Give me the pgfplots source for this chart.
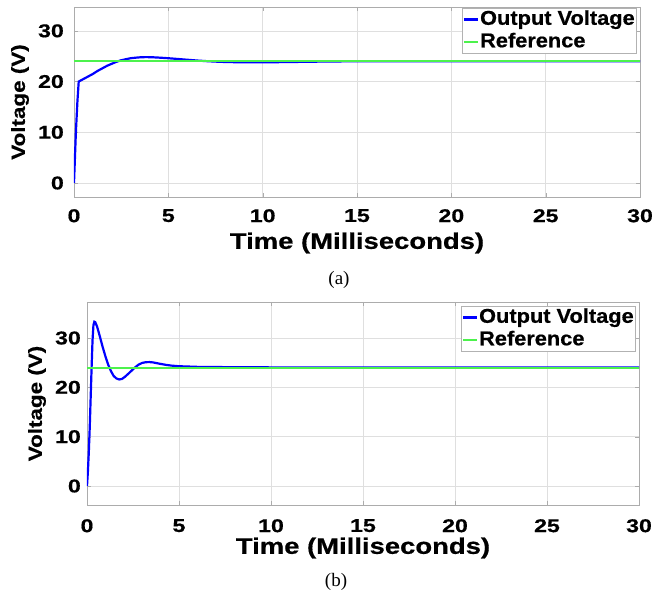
\documentclass[border=0pt]{standalone}
\usepackage{pgfplots}
\pgfplotsset{compat=1.18}
\usepackage{fontspec}
\setmainfont{Liberation Serif}
\newfontfamily\tickfont{Liberation Sans}[FakeStretch=1.25, BoldFeatures={FakeBold=0.6}]
\newfontfamily\xlblfont{Liberation Sans}[FakeStretch=1.22, BoldFeatures={FakeBold=0.6}]
\newfontfamily\ylblfont{Liberation Sans}[FakeStretch=1.18, BoldFeatures={FakeBold=0.6}]
\newfontfamily\legfont{Liberation Sans}[FakeStretch=1.09, BoldFeatures={FakeBold=0.6}]
\definecolor{mblue}{rgb}{0,0,1}
\definecolor{mgreen}{rgb}{0.3,0.95,0.3}

\pgfplotstableread{
t v
0 0
0.05 5
0.1 10
0.18 16
0.25 20
0.4 20.3
0.6 20.7
0.8 21.1
1.0 21.5
1.25 22.1
1.5 22.6
1.75 23.1
2.0 23.5
2.25 23.9
2.5 24.2
2.75 24.4
3.0 24.6
3.25 24.7
3.5 24.78
3.8 24.82
4.1 24.8
4.5 24.72
5.0 24.6
5.5 24.45
6.0 24.3
6.5 24.15
7.0 24.03
7.5 23.93
8.0 23.86
8.5 23.82
9.0 23.8
9.5 23.79
10 23.8
11 23.83
12 23.88
13 23.93
14 23.97
15 23.99
17 24.0
20 24.0
25 24.0
30 24.0
}\dataA

\pgfplotstableread{
t v
0 0
0.05 3
0.1 7
0.15 12
0.2 18
0.25 24
0.3 29.5
0.35 32.6
0.4 33.3
0.45 33.2
0.55 32.3
0.7 30.3
0.85 28.2
1.0 26.3
1.15 24.6
1.3 23.3
1.45 22.3
1.6 21.8
1.75 21.6
1.9 21.7
2.05 22.1
2.2 22.6
2.4 23.3
2.6 24.0
2.8 24.6
3.0 24.95
3.2 25.1
3.4 25.12
3.6 25.05
3.8 24.9
4.0 24.75
4.3 24.55
4.6 24.4
5.0 24.28
6.0 24.15
8.0 24.08
10 24.05
15 24.04
20 24.03
30 24.03
}\dataB

\pgfplotsset{mystyle/.style={
  scale only axis,
  xmin=0, xmax=30,
  xtick={0,5,...,30}, ytick={0,10,20,30},
  grid=major,
  major grid style={gray!25, line width=0.6pt},
  axis line style={gray!65, line width=0.8pt},
  tick style={gray!65},
  tick align=inside,
  major tick length=4pt,
  /pgf/number format/assume math mode=true,
  ticklabel style={font=\tickfont\bfseries\fontsize{18.5}{18.5}\selectfont},
  xticklabel style={anchor=north, inner sep=0pt},
  yticklabel style={anchor=east, inner sep=0pt},
  xlabel style={font=\xlblfont\bfseries\fontsize{22.5}{22.5}\selectfont, anchor=center},
  ylabel style={font=\ylblfont\bfseries\fontsize{19}{19}\selectfont, anchor=center},
  legend cell align=left,
  legend image code/.code={\draw[#1] (0pt,0pt) -- (14pt,0pt);},
  legend style={font=\legfont\bfseries\fontsize{20}{20}\selectfont,
    draw=gray!60, line width=0.6pt, anchor=north east, inner sep=1pt, row sep=2pt,
    nodes={inner sep=1pt, text height=14.5pt, text depth=4pt}},
  xlabel={Time (Milliseconds)},
  ylabel={Voltage (V)},
}}

\begin{document}
\begin{tikzpicture}
\useasboundingbox (0pt,0pt) rectangle (654pt,594pt);
\begin{axis}[mystyle,
  at={(74pt,397pt)}, anchor=south west,
  width=566pt, height=190pt,
  ymin=-2.76, ymax=34.7,
  xticklabel style={yshift=-12pt},
  yticklabel style={xshift=-10pt},
  xlabel style={at={([yshift=-46pt]axis description cs:0.5,0)}},
  ylabel style={at={([xshift=-54pt]axis description cs:0,0.5)}},
  legend style={at={([xshift=-3pt,yshift=-1pt]axis description cs:1,1)}},
]
\addplot[mblue, line width=2.2pt] table[x=t,y=v] {\dataA};
\addlegendentry{Output Voltage}
\addplot[draw=mgreen, line width=1.7pt] coordinates {(0,24) (30,24)};
\addlegendentry{Reference}
\end{axis}

\begin{axis}[mystyle,
  at={(87pt,89pt)}, anchor=south west,
  width=552pt, height=203pt,
  ymin=-3.85, ymax=37.3,
  xticklabel style={yshift=-14pt},
  yticklabel style={xshift=-6pt},
  xlabel style={at={([yshift=-43pt]axis description cs:0.5,0)}},
  ylabel style={at={([xshift=-50pt]axis description cs:0,0.5)}},
  legend style={at={([xshift=-3pt,yshift=-4pt]axis description cs:1,1)}},
]
\addplot[mblue, line width=2.2pt] table[x=t,y=v] {\dataB};
\addlegendentry{Output Voltage}
\addplot[draw=mgreen, line width=2pt] coordinates {(0,23.98) (30,23.98)};
\addlegendentry{Reference}
\end{axis}

\node[font=\fontsize{19}{19}\selectfont] at (339pt,314pt) {(a)};
\node[font=\fontsize{19}{19}\selectfont] at (336pt,12pt) {(b)};
\end{tikzpicture}
\end{document}
